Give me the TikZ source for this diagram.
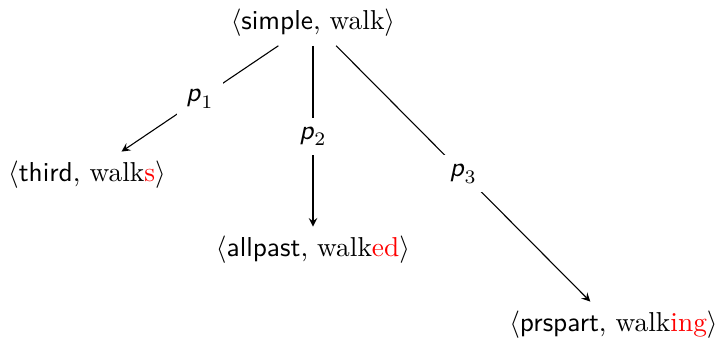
\documentclass[tikz,border=0pt]{standalone}
\usepackage{amsmath, amssymb}
\usetikzlibrary{calc}
\tikzstyle{wd}=[inner sep=.333em]
\tikzstyle{pth}=[fill=white]
\tikzstyle{arr}=[->, >=stealth]
\newcommand{\pp}[1]{$\textsf{\textit{p}}_{#1}$}
\newcommand{\tup}[2]{$\langle$\textsf{#1}, #2$\rangle$}

\begin{document}
\begin{tikzpicture}
\useasboundingbox (0,0) rectangle (9.3,4.354);
\node at (4.02,4.066)[wd](s){\tup{simple}{walk}};
\node at (1.117,2.107)[wd](t){\tup{third}{walk\textcolor{red}{s}}};
\node at (4.02,1.143)[wd](a){\tup{allpast}{walk\textcolor{red}{ed}}};
\node at (7.88,0.18)[wd](r){\tup{prspart}{walk\textcolor{red}{ing}}};
\draw[arr] (s)--node[pth]{\pp{1}}(t);
\draw[arr] (s)--node[pth]{\pp{2}}(a);
\draw[arr] (s)--node[pth]{\pp{3}}(r);
\end{tikzpicture}
\end{document}
